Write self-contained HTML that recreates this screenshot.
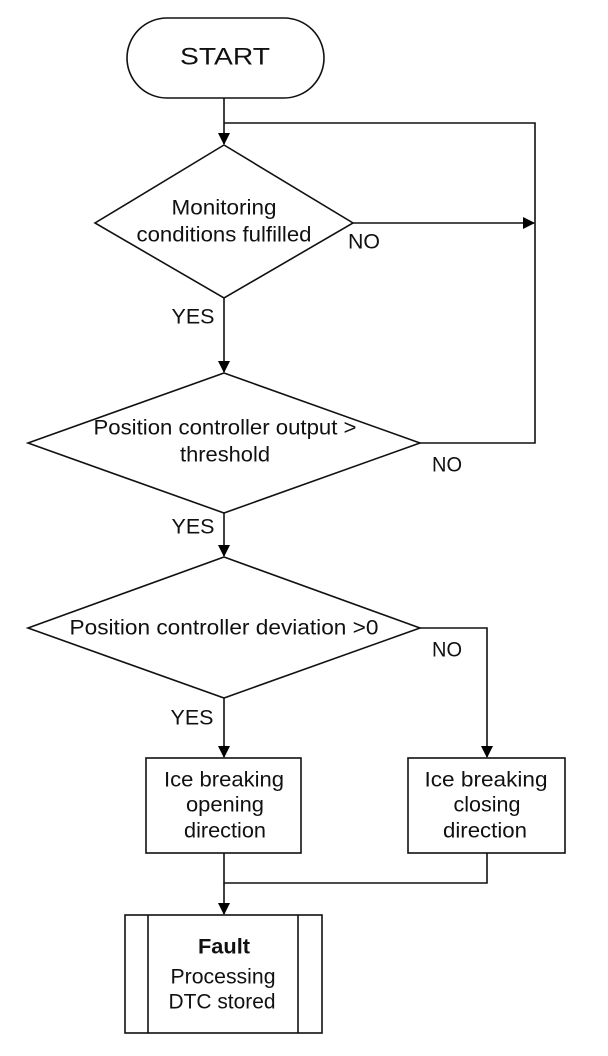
<!DOCTYPE html>
<html><head><meta charset="utf-8"><style>
html,body{margin:0;padding:0;background:#fff;width:608px;height:1056px;overflow:hidden}
svg{display:block}
text{font-family:"Liberation Sans",sans-serif;fill:#111;text-anchor:middle;dominant-baseline:central}
</style></head><body>
<svg width="608" height="1056" viewBox="0 0 608 1056" xmlns="http://www.w3.org/2000/svg">
<defs><marker id="a" markerWidth="12" markerHeight="12" refX="11" refY="6" orient="auto" markerUnits="userSpaceOnUse"><path d="M0,0 L12,6 L0,12 z" fill="#000"/></marker></defs>
<g fill="none" stroke="#111" stroke-width="1.6">
<rect x="127" y="18" width="197" height="80" rx="40" ry="40"/>
<line x1="224" y1="98" x2="224" y2="144" marker-end="url(#a)"/>
<polyline points="224,123 535,123 535,443 420,443"/>
<polygon points="224,145 353,223 224,298 95,223"/>
<line x1="353" y1="223" x2="534" y2="223" marker-end="url(#a)"/>
<line x1="224" y1="298" x2="224" y2="372" marker-end="url(#a)"/>
<polygon points="224,373 420,443 224,513 28,443"/>
<line x1="224" y1="513" x2="224" y2="556" marker-end="url(#a)"/>
<polygon points="224,557 420,628 224,698 28,628"/>
<polyline points="420,628 487,628 487,757" marker-end="url(#a)"/>
<line x1="224" y1="698" x2="224" y2="757" marker-end="url(#a)"/>
<rect x="146" y="758" width="155" height="95"/>
<rect x="408" y="758" width="157" height="95"/>
<polyline points="224,853 224,883 487,883 487,853"/>
<line x1="224" y1="883" x2="224" y2="914" marker-end="url(#a)"/>
<rect x="125" y="915" width="197" height="118"/>
<line x1="148" y1="915" x2="148" y2="1033"/>
<line x1="298" y1="915" x2="298" y2="1033"/>
</g>
<g font-size="21">
<text x="225" y="57" textLength="90" lengthAdjust="spacingAndGlyphs" font-size="24">START</text>
<text x="224" y="208" textLength="105" lengthAdjust="spacingAndGlyphs">Monitoring</text>
<text x="224" y="235" textLength="175" lengthAdjust="spacingAndGlyphs">conditions fulfilled</text>
<text x="364" y="242" textLength="32" lengthAdjust="spacingAndGlyphs">NO</text>
<text x="193" y="317" textLength="43" lengthAdjust="spacingAndGlyphs">YES</text>
<text x="225" y="428" textLength="263" lengthAdjust="spacingAndGlyphs">Position controller output &gt;</text>
<text x="225" y="455" textLength="90" lengthAdjust="spacingAndGlyphs">threshold</text>
<text x="447" y="465" textLength="30" lengthAdjust="spacingAndGlyphs">NO</text>
<text x="193" y="527" textLength="43" lengthAdjust="spacingAndGlyphs">YES</text>
<text x="224" y="628" textLength="309" lengthAdjust="spacingAndGlyphs">Position controller deviation &gt;0</text>
<text x="447" y="650" textLength="30" lengthAdjust="spacingAndGlyphs">NO</text>
<text x="192" y="718" textLength="43" lengthAdjust="spacingAndGlyphs">YES</text>
<text x="224" y="780" textLength="120" lengthAdjust="spacingAndGlyphs">Ice breaking</text>
<text x="225" y="805" textLength="78" lengthAdjust="spacingAndGlyphs">opening</text>
<text x="225" y="831" textLength="82" lengthAdjust="spacingAndGlyphs">direction</text>
<text x="486" y="780" textLength="123" lengthAdjust="spacingAndGlyphs">Ice breaking</text>
<text x="487" y="805" textLength="67" lengthAdjust="spacingAndGlyphs">closing</text>
<text x="485" y="831" textLength="84" lengthAdjust="spacingAndGlyphs">direction</text>
<text x="224" y="947" textLength="52" lengthAdjust="spacingAndGlyphs" font-weight="bold">Fault</text>
<text x="223" y="977" textLength="105" lengthAdjust="spacingAndGlyphs">Processing</text>
<text x="222" y="1002" textLength="107" lengthAdjust="spacingAndGlyphs">DTC stored</text>
</g>
</svg>
</body></html>
